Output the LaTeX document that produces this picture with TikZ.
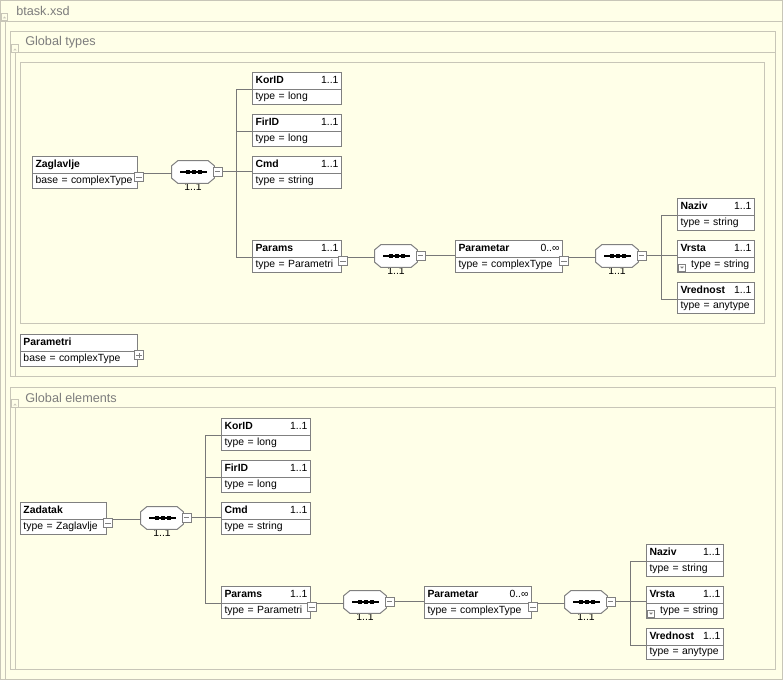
\documentclass[tikz,border=0pt]{standalone}
\usepackage{fontspec}
\setmainfont{Liberation Sans}
\usetikzlibrary{shapes.multipart}
\definecolor{paper}{RGB}{255,255,232}
\definecolor{framegray}{RGB}{200,198,184}
\definecolor{boxline}{RGB}{128,128,128}
\definecolor{wire}{RGB}{120,120,120}
\definecolor{titlegray}{RGB}{125,125,125}
\begin{document}
\begin{tikzpicture}[
  x=0.75pt, y=-0.75pt,
  font=\fontsize{7.8}{9}\selectfont,
  elem/.style={rectangle split, rectangle split parts=2, draw=boxline, fill=white, line width=0.75pt,
    text width=#1, align=left, inner xsep=2.25pt, inner ysep=1.5pt,
    text height=6.2pt, text depth=2.8pt, anchor=north west},
  seq/.style={minimum width=31.5pt, minimum height=16.5pt, inner sep=0pt,
    label distance=2pt, label={[name=#1, inner sep=0pt]below:1..1}},
  seqbox/.style={draw=boxline, fill=white, line width=0.75pt},
  tog/.style={draw=boxline, fill=white, line width=0.75pt, minimum size=6.75pt, inner sep=0pt,
    path picture={\draw[boxline] ([xshift=1.3pt]path picture bounding box.west) -- ([xshift=-1.3pt]path picture bounding box.east);}},
  togplus/.style={draw=boxline, fill=white, line width=0.75pt, minimum size=6.75pt, inner sep=0pt,
    path picture={\draw[boxline] ([xshift=1.3pt]path picture bounding box.west) -- ([xshift=-1.3pt]path picture bounding box.east);
      \draw[boxline] ([yshift=1.3pt]path picture bounding box.south) -- ([yshift=-1.3pt]path picture bounding box.north);}},
  conn/.style={draw=wire, line width=0.75pt},
  frame/.style={draw=framegray, line width=0.75pt},
  ttl/.style={text=titlegray, font=\fontsize{9.5}{11}\selectfont, anchor=west, inner sep=0pt}
]
\useasboundingbox (0,0) rectangle (783,680);
\fill[paper] (0,0) rectangle (783,680);

% frames
\draw[frame] (0.5,0.5) rectangle (782.5,679.5);
\draw[frame] (0.5,21.5) -- (782.5,21.5);
\draw[frame] (5.5,21.5) -- (5.5,679.5);
\draw[frame] (1.5,13.5) rectangle (7.5,20.5);
\fill[framegray] (2.8,18.5) -- (6.2,18.5) -- (4.5,16.5) -- cycle;
\node[ttl] (doc-title) at (16,11) {btask.xsd};

\draw[frame] (10.5,31.5) rectangle (775.5,376.5);
\draw[frame] (10.5,52.5) -- (775.5,52.5);
\draw[frame] (15.5,52.5) -- (15.5,376.5);
\draw[frame] (11.5,44.5) rectangle (18.5,52.5);
\fill[framegray] (13.2,50.5) -- (16.8,50.5) -- (15,48.5) -- cycle;
\draw[frame] (20.5,62.5) rectangle (764.5,323.5);
\node[ttl] (gt-title) at (25,42.5) {Global types};

\draw[frame] (10.5,387.5) rectangle (775.5,669.5);
\draw[frame] (10.5,407.5) -- (775.5,407.5);
\draw[frame] (15.5,407.5) -- (15.5,669.5);
\draw[frame] (11.5,399.5) rectangle (18.5,407.5);
\fill[framegray] (13.2,405.5) -- (16.8,405.5) -- (15,403.5) -- cycle;
\node[ttl] (ge-title) at (25,398) {Global elements};

% global types
\node[elem=74.25pt] (t-zag) at (32,156) {\textbf{Zaglavlje}\nodepart{two}base = complexType};
\node[seq=t-seq1-n] (t-seq1) at (193,172) {};
\node[elem=62.25pt] (t-korid) at (252,72) {\textbf{KorID}\hfill 1..1\nodepart{two}type = long};
\node[elem=62.25pt] (t-firid) at (252,114) {\textbf{FirID}\hfill 1..1\nodepart{two}type = long};
\node[elem=62.25pt] (t-cmd) at (252,156) {\textbf{Cmd}\hfill 1..1\nodepart{two}type = string};
\node[elem=62.25pt] (t-params) at (252,240) {\textbf{Params}\hfill 1..1\nodepart{two}type = Parametri};
\node[seq=t-seq2-n] (t-seq2) at (396,256) {};
\node[elem=75.75pt] (t-parametar) at (455,240) {\textbf{Parametar}\hfill 0..∞\nodepart{two}type = complexType};
\node[seq=t-seq3-n] (t-seq3) at (617,256) {};
\node[elem=53.25pt] (t-naziv) at (677,198) {\textbf{Naziv}\hfill 1..1\nodepart{two}type = string};
\node[elem=53.25pt] (t-vrsta) at (677,240) {\textbf{Vrsta}\hfill 1..1\nodepart{two}\hspace*{8pt}type = string};
\node[elem=53.25pt] (t-vrednost) at (677,282) {\textbf{Vrednost}\hfill 1..1\nodepart{two}type = anytype};
\node[elem=83.25pt] (t-parametri) at (20,334) {\textbf{Parametri}\nodepart{two}base = complexType};
\coordinate (t-bus1) at (236,0);
\coordinate (t-bus2) at (661,0);

% global elements
\node[elem=60pt] (b-zadatak) at (20,502) {\textbf{Zadatak}\nodepart{two}type = Zaglavlje};
\node[seq=b-seq1-n] (b-seq1) at (162,518) {};
\node[elem=62.25pt] (b-korid) at (221,418) {\textbf{KorID}\hfill 1..1\nodepart{two}type = long};
\node[elem=62.25pt] (b-firid) at (221,460) {\textbf{FirID}\hfill 1..1\nodepart{two}type = long};
\node[elem=62.25pt] (b-cmd) at (221,502) {\textbf{Cmd}\hfill 1..1\nodepart{two}type = string};
\node[elem=62.25pt] (b-params) at (221,586) {\textbf{Params}\hfill 1..1\nodepart{two}type = Parametri};
\node[seq=b-seq2-n] (b-seq2) at (365,602) {};
\node[elem=75.75pt] (b-parametar) at (424,586) {\textbf{Parametar}\hfill 0..∞\nodepart{two}type = complexType};
\node[seq=b-seq3-n] (b-seq3) at (586,602) {};
\node[elem=53.25pt] (b-naziv) at (646,544) {\textbf{Naziv}\hfill 1..1\nodepart{two}type = string};
\node[elem=53.25pt] (b-vrsta) at (646,586) {\textbf{Vrsta}\hfill 1..1\nodepart{two}\hspace*{8pt}type = string};
\node[elem=53.25pt] (b-vrednost) at (646,628) {\textbf{Vrednost}\hfill 1..1\nodepart{two}type = anytype};
\coordinate (b-bus1) at (205,0);
\coordinate (b-bus2) at (630,0);

% sequence compositors
\foreach \s in {t-seq1,t-seq2,t-seq3,b-seq1,b-seq2,b-seq3} {
  \draw[seqbox] ([xshift=4.5pt]\s.north west) -- ([xshift=-4.5pt]\s.north east)
    -- ([yshift=-3.75pt]\s.north east) -- ([yshift=3.75pt]\s.south east)
    -- ([xshift=-4.5pt]\s.south east) -- ([xshift=4.5pt]\s.south west)
    -- ([yshift=3.75pt]\s.south west) -- ([yshift=-3.75pt]\s.north west) -- cycle;
  \draw[line width=0.9pt] ([xshift=-9.5pt]\s.center) -- ([xshift=10.5pt]\s.center);
  \foreach \d in {-4,0.5,5}
    \fill ([xshift=\d pt]\s.center) ++(-1.5pt,-1.2pt) rectangle ++(3pt,2.4pt);
}

% connectors
\draw[conn] (t-zag.text split east) -- (t-zag.text split east -| t-seq1.west);
\draw[conn] (t-seq1.east) -- (t-seq1.east -| t-cmd.west);
\draw[conn] (t-korid.text split west) -- (t-korid.text split west -| t-bus1) -- (t-params.text split west -| t-bus1) -- (t-params.text split west);
\draw[conn] (t-firid.text split west) -- (t-firid.text split west -| t-bus1);
\draw[conn] (t-params.text split east) -- (t-params.text split east -| t-seq2.west);
\draw[conn] (t-seq2.east) -- (t-seq2.east -| t-parametar.west);
\draw[conn] (t-parametar.text split east) -- (t-parametar.text split east -| t-seq3.west);
\draw[conn] (t-seq3.east) -- (t-seq3.east -| t-vrsta.west);
\draw[conn] (t-naziv.text split west) -- (t-naziv.text split west -| t-bus2) -- (t-vrednost.text split west -| t-bus2) -- (t-vrednost.text split west);

\draw[conn] (b-zadatak.text split east) -- (b-zadatak.text split east -| b-seq1.west);
\draw[conn] (b-seq1.east) -- (b-seq1.east -| b-cmd.west);
\draw[conn] (b-korid.text split west) -- (b-korid.text split west -| b-bus1) -- (b-params.text split west -| b-bus1) -- (b-params.text split west);
\draw[conn] (b-firid.text split west) -- (b-firid.text split west -| b-bus1);
\draw[conn] (b-params.text split east) -- (b-params.text split east -| b-seq2.west);
\draw[conn] (b-seq2.east) -- (b-seq2.east -| b-parametar.west);
\draw[conn] (b-parametar.text split east) -- (b-parametar.text split east -| b-seq3.west);
\draw[conn] (b-seq3.east) -- (b-seq3.east -| b-vrsta.west);
\draw[conn] (b-naziv.text split west) -- (b-naziv.text split west -| b-bus2) -- (b-vrednost.text split west -| b-bus2) -- (b-vrednost.text split west);

% toggles
\node[tog] (t-zag-t) at ([shift={(1,4)}]t-zag.text split east) {};
\node[tog] (t-seq1-t) at ([xshift=2.5pt]t-seq1.east) {};
\node[tog] (t-params-t) at ([shift={(1,4)}]t-params.text split east) {};
\node[tog] (t-seq2-t) at ([xshift=2.5pt]t-seq2.east) {};
\node[tog] (t-parametar-t) at ([shift={(1,4)}]t-parametar.text split east) {};
\node[tog] (t-seq3-t) at ([xshift=2.5pt]t-seq3.east) {};
\node[togplus] (t-parametri-t) at ([shift={(1,4)}]t-parametri.text split east) {};
\draw[boxline, fill=white] ([shift={(1.5,-1.5)}]t-vrsta.south west) rectangle ++(7,-7);
\fill[boxline] ([shift={(3,-6)}]t-vrsta.south west) -- ++(4,0) -- ++(-2,2) -- cycle;

\node[tog] (b-zadatak-t) at ([shift={(1,4)}]b-zadatak.text split east) {};
\node[tog] (b-seq1-t) at ([xshift=2.5pt]b-seq1.east) {};
\node[tog] (b-params-t) at ([shift={(1,4)}]b-params.text split east) {};
\node[tog] (b-seq2-t) at ([xshift=2.5pt]b-seq2.east) {};
\node[tog] (b-parametar-t) at ([shift={(1,4)}]b-parametar.text split east) {};
\node[tog] (b-seq3-t) at ([xshift=2.5pt]b-seq3.east) {};
\draw[boxline, fill=white] ([shift={(1.5,-1.5)}]b-vrsta.south west) rectangle ++(7,-7);
\fill[boxline] ([shift={(3,-6)}]b-vrsta.south west) -- ++(4,0) -- ++(-2,2) -- cycle;
\end{tikzpicture}
\end{document}
